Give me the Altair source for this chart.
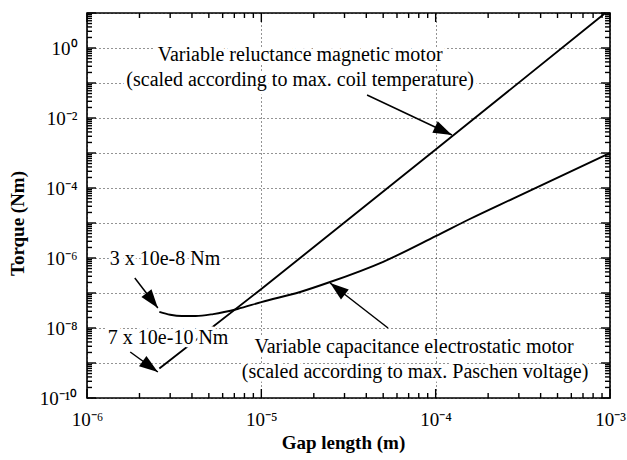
import math
import altair as alt
import pandas as pd

# ---------------- data ----------------
# Variable reluctance magnetic motor (straight line in log-log)
mag_gap = [2.6e-6, 1.0e-5, 1.0e-4, 9.4e-4]
mag_torque = [7.0e-10, 1.3e-7, 1.25e-3, 1.0e1]

# Variable capacitance electrostatic motor
es_gap = [2.6e-6, 3.0e-6, 3.5e-6, 4.2e-6, 5.3e-6, 7.3e-6, 1.0e-5, 1.67e-5,
          2.48e-5, 5.0e-5, 1.0e-4, 1.57e-4, 2.78e-4, 1.0e-3]
es_torque = [2.9e-8, 2.4e-8, 2.2e-8, 2.2e-8, 2.5e-8, 3.5e-8, 5.5e-8, 1.07e-7,
             2.06e-7, 7.8e-7, 4.2e-6, 1.3e-5, 5.0e-5, 1.0e-3]

# axis ticks and labels
x_major = [1e-6, 1e-5, 1e-4, 1e-3]
x_minor = [m * 10.0 ** k for k in (-6, -5, -4) for m in range(2, 10)]
y_major = [10.0 ** k for k in range(-10, 2)]
y_minor = [m * 10.0 ** k for k in range(-10, 1) for m in range(2, 10)]
x_labels = ["10⁻⁶", "10⁻⁵", "10⁻⁴", "10⁻³"]
y_labels = ["10⁻¹⁰", "", "10⁻⁸", "", "10⁻⁶", "", "10⁻⁴", "", "10⁻²", "", "10⁰", ""]

# annotations
note_text = ["Variable reluctance magnetic motor",
             "(scaled according to max. coil temperature)",
             "3 x 10e-8 Nm",
             "7 x 10e-10 Nm",
             "Variable capacitance electrostatic motor",
             "(scaled according to max. Paschen voltage)"]
note_x = [1.67e-5, 1.67e-5, 2.8e-6, 2.92e-6, 7.52e-5, 7.62e-5]
note_y = [0.631, 0.122, 9.36e-7, 5.18e-9, 2.87e-9, 5.53e-10]

# arrows: start -> tip
arrow_x0 = [4.04e-5, 5.33e-5, 1.88e-6, 1.77e-6]
arrow_y0 = [4.54e-2, 1.0e-8, 2.68e-7, 2.06e-9]
arrow_x1 = [1.24e-4, 2.48e-5, 2.55e-6, 2.55e-6]
arrow_y1 = [3.27e-3, 1.93e-7, 3.73e-8, 5.53e-10]

# ---------------- chart ----------------
W, H = 523, 385
FONT = "Liberation Serif"
XDOM = [1e-6, 1e-3]
YDOM = [1e-10, 1e1]
MAJOR, MINOR = 9, 5
xs = alt.Scale(type="log", domain=XDOM, nice=False)
ys = alt.Scale(type="log", domain=YDOM, nice=False)

mag_df = pd.DataFrame({"gap": mag_gap, "torque": mag_torque})
es_df = pd.DataFrame({"gap": es_gap, "torque": es_torque})
note_df = pd.DataFrame({"nx": note_x, "ny": note_y, "t": note_text})


def px_dx(a, b):
    return (math.log10(b) - math.log10(a)) * W / (math.log10(XDOM[1]) - math.log10(XDOM[0]))


def px_dy(a, b):
    return -(math.log10(b) - math.log10(a)) * H / (math.log10(YDOM[1]) - math.log10(YDOM[0]))


arrow_ang = [math.degrees(math.atan2(px_dx(x0, x1), -px_dy(y0, y1))) % 360
             for x0, y0, x1, y1 in zip(arrow_x0, arrow_y0, arrow_x1, arrow_y1)]
arrow_df = pd.DataFrame({"x0": arrow_x0, "y0": arrow_y0, "x1": arrow_x1,
                         "y1": arrow_y1, "ang": arrow_ang})

x_expr = "[" + ",".join("'%s'" % s for s in x_labels) + "][round(log(datum.value)/LN10)+6]"
y_expr = "[" + ",".join("'%s'" % s for s in y_labels) + "][round(log(datum.value)/LN10)+10]"

x_axis_main = alt.Axis(values=x_major, labelExpr=x_expr, grid=True, gridColor="black",
                       gridDash=[1, 3], gridWidth=1, gridOpacity=0.85, ticks=False,
                       tickSize=0, domain=False, labelFont=FONT, labelFontSize=19,
                       labelColor="black", labelPadding=12, labelFlush=False,
                       labelOverlap=False, labelBaseline="top",
                       title="Gap length (m)", titleFont=FONT, titleFontSize=19,
                       titleFontWeight="bold", titleColor="black", titleX=256,
                       titleY=44, titleBaseline="middle", titleAlign="center")
y_axis_main = alt.Axis(values=y_major, labelExpr=y_expr, grid=True, gridColor="black",
                       gridDash=[1, 3], gridWidth=1, gridOpacity=0.85, ticks=False,
                       tickSize=0, domain=False, labelFont=FONT, labelFontSize=19,
                       labelColor="black", labelPadding=10, labelFlush=False,
                       labelOverlap=False, labelBaseline="middle",
                       title="Torque (Nm)", titleFont=FONT, titleFontSize=19,
                       titleFontWeight="bold", titleColor="black", titleX=-70,
                       titleY=210, titleBaseline="middle", titleAlign="center",
                       titleAngle=270)

mag_line = alt.Chart(mag_df).mark_line(color="black", strokeWidth=1.9).encode(
    x=alt.X("gap:Q", scale=xs, axis=x_axis_main),
    y=alt.Y("torque:Q", scale=ys, axis=y_axis_main),
)

es_line = alt.Chart(es_df).mark_line(color="black", strokeWidth=1.9,
                                     interpolate="monotone").encode(
    x=alt.X("gap:Q", scale=xs, axis=None),
    y=alt.Y("torque:Q", scale=ys, axis=None),
)


# inward-pointing ticks on all four sides of the frame, placed by the scales
def x_edge_ticks(values, size):
    df = pd.DataFrame({"v": values})
    base = alt.Chart(df).mark_rule(color="black", strokeWidth=1.4)
    xenc = alt.X("v:Q", scale=xs, axis=None)
    return [base.encode(x=xenc, y=alt.value(H), y2=alt.value(H - size)),
            base.encode(x=xenc, y=alt.value(0), y2=alt.value(size))]


def y_edge_ticks(values, size):
    df = pd.DataFrame({"v": values})
    base = alt.Chart(df).mark_rule(color="black", strokeWidth=1.4)
    yenc = alt.Y("v:Q", scale=ys, axis=None)
    return [base.encode(y=yenc, x=alt.value(0), x2=alt.value(size)),
            base.encode(y=yenc, x=alt.value(W), x2=alt.value(W - size))]


ticks = (x_edge_ticks(x_major, MAJOR) + x_edge_ticks(x_minor, MINOR)
         + y_edge_ticks(y_major, MAJOR) + y_edge_ticks(y_minor, MINOR))

note_enc = dict(x=alt.X("nx:Q", scale=xs, axis=None),
                y=alt.Y("ny:Q", scale=ys, axis=None),
                text="t:N")
halo = alt.Chart(note_df).mark_text(font=FONT, fontSize=20, align="center",
                                    baseline="middle", stroke="white",
                                    strokeWidth=7, strokeJoin="round",
                                    fill="white").encode(**note_enc)
notes = alt.Chart(note_df).mark_text(font=FONT, fontSize=20, align="center",
                                     baseline="middle", color="black").encode(**note_enc)

shafts = alt.Chart(arrow_df).mark_rule(color="black", strokeWidth=1.5).encode(
    x=alt.X("x0:Q", scale=xs, axis=None), x2="x1:Q",
    y=alt.Y("y0:Q", scale=ys, axis=None), y2="y1:Q",
)
heads = alt.Chart(arrow_df).mark_point(
    shape="M0,0 L0.34,1 L-0.34,1 Z", filled=True, color="black", opacity=1,
    size=1400, strokeWidth=0).encode(
    x=alt.X("x1:Q", scale=xs, axis=None),
    y=alt.Y("y1:Q", scale=ys, axis=None),
    angle=alt.Angle("ang:Q", scale=None),
)

chart = alt.layer(mag_line, es_line, *ticks, halo, notes, shafts, heads).resolve_axis(
    x="independent", y="independent"
).properties(
    width=W, height=H,
    autosize=alt.AutoSizeParams(type="none"),
    padding={"left": 87, "top": 13, "right": 17, "bottom": 62},
    background="white",
).configure_view(stroke="black", strokeWidth=1.6)

chart.save("out.html", embed_options={"renderer": "svg", "actions": False})
